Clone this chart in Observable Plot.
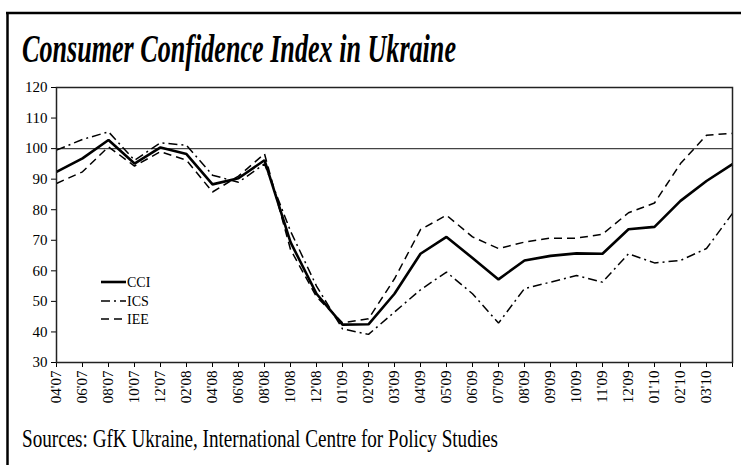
<!DOCTYPE html>
<html>
<head>
<meta charset="utf-8">
<script src="https://cdn.jsdelivr.net/npm/d3@7"></script>
<script src="https://cdn.jsdelivr.net/npm/@observablehq/plot@0.6"></script>
<style>
  html, body { margin: 0; padding: 0; background: #fff; }
  #wrap { position: relative; width: 741px; height: 465px; overflow: hidden; background: #fff; }
  #chart { position: absolute; left: 0; top: 80px; }
  #chart svg text { font-size: 15px !important; }
  #overlay { position: absolute; left: 0; top: 0; pointer-events: none; }
</style>
</head>
<body>
<div id="wrap">
  <div id="chart"></div>
  <svg id="overlay" width="741" height="465"></svg>
</div>
<script>
const title = "Consumer Confidence Index in Ukraine";
const caption = "Sources: GfK Ukraine, International Centre for Policy Studies";
const categories = ["04'07","06'07","08'07","10'07","12'07","02'08","04'08","06'08","08'08","10'08","12'08","01'09","02'09","03'09","04'09","05'09","06'09","07'09","08'09","09'09","10'09","11'09","12'09","01'10","02'10","03'10","04'10"];
const tickLabels = ["04'07","06'07","08'07","10'07","12'07","02'08","04'08","06'08","08'08","10'08","12'08","01'09","02'09","03'09","04'09","05'09","06'09","07'09","08'09","09'09","10'09","11'09","12'09","01'10","02'10","03'10",""];
const yTicks = [30, 40, 50, 60, 70, 80, 90, 100, 110, 120];
const seriesNames = ["CCI", "ICS", "IEE"];
const cci = [92.4, 96.8, 102.8, 95.1, 100.4, 98.2, 88.3, 90.3, 96.2, 69.4, 52.5, 42.4, 42.5, 52.5, 65.6, 71.1, 64.2, 57.2, 63.4, 64.9, 65.7, 65.6, 73.6, 74.4, 82.9, 89.4, 94.9];
const ics = [99.5, 103.0, 105.5, 96.2, 101.9, 101.1, 91.3, 89.0, 95.0, 73.0, 55.0, 41.0, 39.2, 46.5, 53.8, 59.6, 52.5, 42.9, 54.2, 56.3, 58.5, 56.3, 65.6, 62.6, 63.4, 67.3, 78.8];
const iee = [88.6, 92.4, 100.6, 94.3, 99.0, 96.2, 85.8, 91.0, 98.3, 67.0, 51.5, 43.0, 44.3, 57.4, 73.5, 78.2, 71.1, 67.3, 69.4, 70.7, 70.7, 72.0, 79.0, 82.2, 95.1, 104.4, 105.0];
const referenceLine = [100];

const styles = {
  CCI: { strokeWidth: 2.6, dash: null },
  ICS: { strokeWidth: 1.5, dash: "9,4,2,4" },
  IEE: { strokeWidth: 1.5, dash: "8,5" }
};
const valuesBySeries = { CCI: cci, ICS: ics, IEE: iee };
const rows = seriesNames.flatMap(s => categories.map((c, i) => ({ series: s, cat: c, value: valuesBySeries[s][i] })));

const font = "'Liberation Serif', 'Times New Roman', serif";

const lineMarks = seriesNames.map(s => Plot.line(rows.filter(r => r.series === s), {
  x: "cat", y: "value", stroke: "#000",
  strokeWidth: styles[s].strokeWidth,
  strokeDasharray: styles[s].dash || undefined,
  strokeLinejoin: "miter", strokeLinecap: "butt"
}));

const chart = Plot.plot({
  width: 741, height: 330,
  marginLeft: 56, marginRight: 9, marginTop: 7, marginBottom: 48,
  style: { fontFamily: font, fontSize: "15px", background: "transparent", color: "#000" },
  x: { type: "point", domain: categories, padding: 0, label: null, tickSize: 5, tickPadding: 3, tickRotate: -90,
       tickFormat: d => tickLabels[categories.indexOf(d)] },
  y: { domain: [30, 120], ticks: yTicks, label: null, tickSize: 5, tickPadding: 4 },
  marks: [
    Plot.ruleY(referenceLine, { stroke: "#444", strokeWidth: 1.2 }),
    ...lineMarks,
    Plot.frame({ stroke: "#222", strokeWidth: 1.5 })
  ]
});
document.getElementById("chart").appendChild(chart);

// overlay: frame, title, caption, legend
const ov = d3.select("#overlay");
ov.append("line").attr("x1", 7.5).attr("y1", 12).attr("x2", 7.5).attr("y2", 465).attr("stroke", "#000").attr("stroke-width", 2.5);
ov.append("line").attr("x1", 6).attr("y1", 13).attr("x2", 741).attr("y2", 13).attr("stroke", "#000").attr("stroke-width", 2.5);

ov.append("text").attr("x", 22).attr("y", 62)
  .attr("font-family", font).attr("font-size", 39).attr("font-weight", "bold").attr("font-style", "italic")
  .attr("textLength", 434).attr("lengthAdjust", "spacingAndGlyphs")
  .text(title);

ov.append("text").attr("x", 22).attr("y", 447)
  .attr("font-family", font).attr("font-size", 25)
  .attr("textLength", 476).attr("lengthAdjust", "spacingAndGlyphs")
  .text(caption);

const legendY = [282, 301, 319];
seriesNames.forEach((s, i) => {
  const g = ov.append("g");
  g.append("line").attr("x1", 101).attr("x2", 126).attr("y1", legendY[i]).attr("y2", legendY[i])
    .attr("stroke", "#000").attr("stroke-width", styles[s].strokeWidth)
    .attr("stroke-dasharray", styles[s].dash);
  g.append("text").attr("x", 127).attr("y", legendY[i]).attr("dy", "0.35em")
    .attr("font-family", font).attr("font-size", 14).text(s);
});
</script>
</body>
</html>
